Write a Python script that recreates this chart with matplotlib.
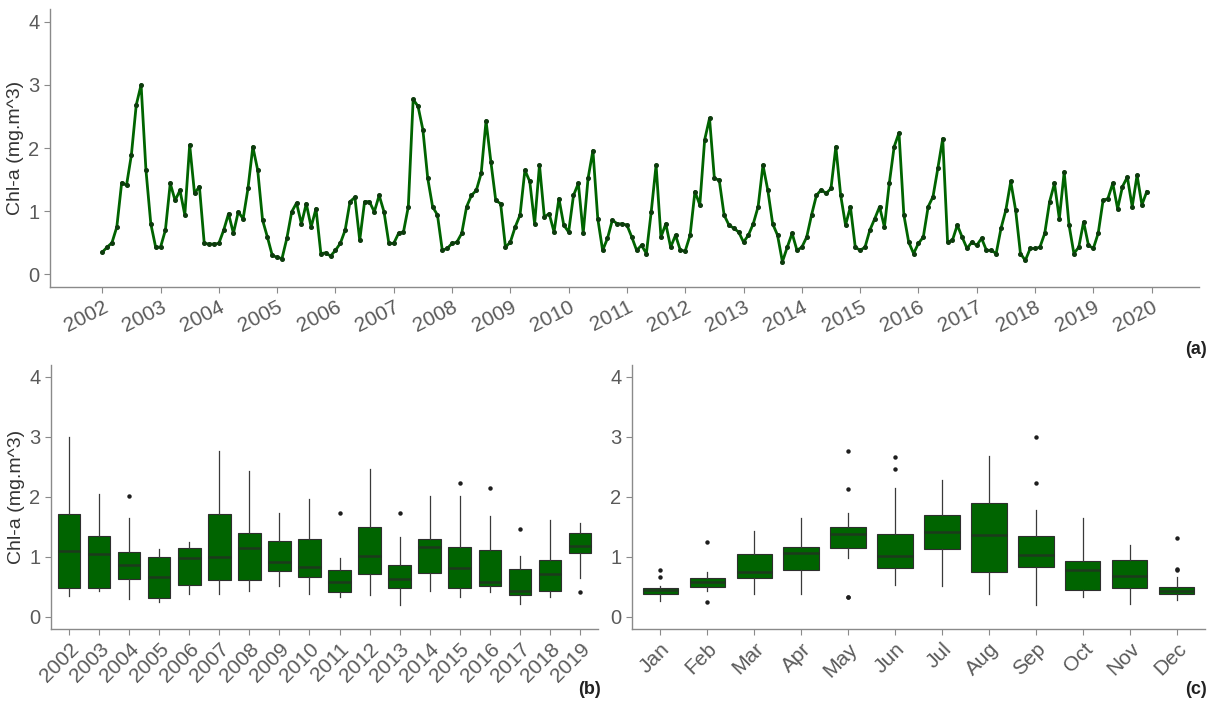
import numpy as np
import matplotlib.pyplot as plt

plt.rcParams['font.family'] = ['Liberation Sans', 'DejaVu Sans']

# monthly Chl-a (mg.m^3), Jan..Dec
chl_2002 = [0.35, 0.43, 0.50, 0.75, 1.45, 1.41, 1.89, 2.68, 3.00, 1.65, 0.80, 0.43]
chl_2003 = [0.43, 0.70, 1.44, 1.17, 1.33, 0.94, 2.05, 1.28, 1.39, 0.49, 0.48, 0.48]
chl_2004 = [0.49, 0.70, 0.96, 0.65, 0.99, 0.88, 1.36, 2.02, 1.65, 0.86, 0.59, 0.30]
chl_2005 = [0.27, 0.25, 0.57, 0.99, 1.13, 0.80, 1.12, 0.75, 1.04, 0.33, 0.34, 0.29]
chl_2006 = [0.38, 0.49, 0.70, 1.15, 1.22, 0.54, 1.15, 1.15, 0.99, 1.25, 0.99, 0.49]
chl_2007 = [0.49, 0.65, 0.67, 1.07, 2.77, 2.66, 2.29, 1.52, 1.07, 0.94, 0.38, 0.41]
chl_2008 = [0.49, 0.51, 0.65, 1.07, 1.25, 1.33, 1.60, 2.43, 1.78, 1.17, 1.12, 0.43]
chl_2009 = [0.51, 0.75, 0.94, 1.65, 1.47, 0.80, 1.73, 0.91, 0.96, 0.67, 1.20, 0.78]
chl_2010 = [0.67, 1.25, 1.44, 0.65, 1.52, 1.96, 0.88, 0.38, 0.57, 0.86, 0.80, 0.80]
chl_2011 = [0.78, 0.59, 0.38, 0.46, 0.33, 0.99, 1.73, 0.59, 0.80, 0.43, 0.62, 0.38]
chl_2012 = [0.37, 0.62, 1.31, 1.10, 2.13, 2.47, 1.52, 1.49, 0.94, 0.78, 0.73, 0.67]
chl_2013 = [0.51, 0.62, 0.80, 1.07, 1.73, 1.33, 0.80, 0.62, 0.20, 0.43, 0.65, 0.38]
chl_2014 = [0.43, 0.59, 0.94, 1.25, 1.34, 1.28, 1.36, 2.02, 1.25, 0.78, 1.07, 0.43]
chl_2015 = [0.38, 0.43, 0.70, 0.88, 1.07, 0.75, 1.44, 2.02, 2.24, 0.94, 0.51, 0.33]
chl_2016 = [0.49, 0.59, 1.07, 1.23, 1.68, 2.15, 0.51, 0.54, 0.78, 0.59, 0.41, 0.51]
chl_2017 = [0.46, 0.57, 0.38, 0.38, 0.33, 0.73, 1.02, 1.47, 1.02, 0.33, 0.22, 0.41]
chl_2018 = [0.41, 0.43, 0.65, 1.15, 1.44, 0.88, 1.62, 0.78, 0.33, 0.43, 0.83, 0.46]
chl_2019 = [0.41, 0.65, 1.17, 1.20, 1.44, 1.04, 1.39, 1.54, 1.07, 1.57, 1.10, 1.31]

years = list(range(2002, 2020))
months = ['Jan', 'Feb', 'Mar', 'Apr', 'May', 'Jun',
          'Jul', 'Aug', 'Sep', 'Oct', 'Nov', 'Dec']

table = np.array([chl_2002, chl_2003, chl_2004, chl_2005, chl_2006, chl_2007,
                  chl_2008, chl_2009, chl_2010, chl_2011, chl_2012, chl_2013,
                  chl_2014, chl_2015, chl_2016, chl_2017, chl_2018, chl_2019])
series = table.ravel()
t = years[0] + np.arange(series.size) / 12.0

GREEN = '#006400'
AXIS = '#8a8a8a'
TICK = '#5a5a5a'
W, H = 1215, 706

fig = plt.figure(figsize=(W / 100, H / 100), dpi=100)


def frame(left, top, right, bottom):
    return fig.add_axes([left / W, 1 - bottom / H, (right - left) / W, (bottom - top) / H])


def style(ax):
    for s in ('top', 'right'):
        ax.spines[s].set_visible(False)
    for s in ('left', 'bottom'):
        ax.spines[s].set_color(AXIS)
        ax.spines[s].set_linewidth(1.0)
    ax.tick_params(colors=AXIS, labelcolor=TICK, length=4, width=0.8)
    ax.tick_params(axis='y', labelsize=14.5)
    ax.tick_params(axis='x', labelsize=15)
    ax.set_ylim(-0.2, 4.2)
    ax.set_yticks([0, 1, 2, 3, 4])


# (a) time series
ax_a = frame(50, 9, 1199, 287)
style(ax_a)
ax_a.plot(t, series, color=GREEN, lw=2.0, zorder=2)
ax_a.plot(t, series, 'o', ms=2.6, color='#0d3b0d', zorder=3)
span = t[-1] - t[0]
ax_a.set_xlim(t[0] - 0.05 * span, t[-1] + 0.05 * span)
ax_a.set_xticks(range(2002, 2021))
ax_a.set_xticklabels([str(y) for y in range(2002, 2021)], rotation=27,
                     ha='right', va='top', rotation_mode='anchor')
ax_a.set_ylabel('Chl-a (mg.m^3)', fontsize=14, color='#333333', labelpad=3)

box_kw = dict(widths=0.75, patch_artist=True, whis=1.5, showcaps=False,
              boxprops=dict(facecolor=GREEN, edgecolor='#2e2e2e', linewidth=0.8),
              medianprops=dict(color='#1c3a1c', linewidth=1.8),
              whiskerprops=dict(color='#3a3a3a', linewidth=0.9),
              flierprops=dict(marker='o', markersize=3.2, markerfacecolor='#1e1e1e',
                              markeredgecolor='none'))

# (b) by year
ax_b = frame(51, 365, 598, 629)
style(ax_b)
ax_b.boxplot([row for row in table], positions=range(1, len(years) + 1), **box_kw)
ax_b.set_xlim(0.4, len(years) + 0.6)
ax_b.set_xticks(range(1, len(years) + 1))
ax_b.set_xticklabels([str(y) for y in years], rotation=45, ha='right', va='top',
                     rotation_mode='anchor')
ax_b.set_ylabel('Chl-a (mg.m^3)', fontsize=14, color='#333333', labelpad=3)

# (c) by month
ax_c = frame(632, 365, 1205, 629)
style(ax_c)
ax_c.boxplot([table[:, m] for m in range(12)], positions=range(1, 13), **box_kw)
ax_c.set_xlim(0.4, 12.6)
ax_c.set_xticks(range(1, 13))
ax_c.set_xticklabels(months, rotation=45, ha='right', va='top', rotation_mode='anchor')

fig.text(1207 / W, 1 - 349 / H, '(a)', ha='right', va='center', fontsize=13,
         fontweight='bold', color='#222222')
fig.text(601 / W, 1 - 690 / H, '(b)', ha='right', va='center', fontsize=13,
         fontweight='bold', color='#222222')
fig.text(1207 / W, 1 - 690 / H, '(c)', ha='right', va='center', fontsize=13,
         fontweight='bold', color='#222222')

fig.savefig('out.png', dpi=100)
